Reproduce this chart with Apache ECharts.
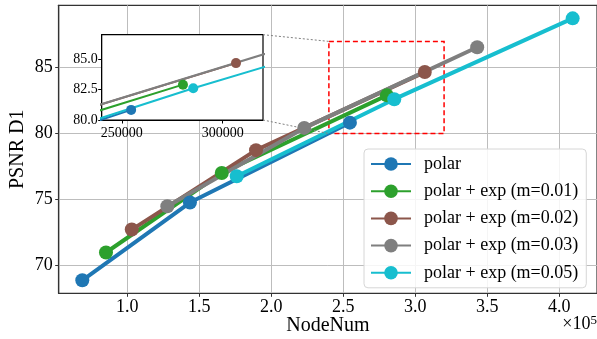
<!DOCTYPE html>
<html>
<head>
<meta charset="utf-8">
<script src="https://cdn.jsdelivr.net/npm/echarts@6/dist/echarts.min.js"></script>
<style>
html,body{margin:0;padding:0;background:#fff;}
#chart{width:597px;height:339px;}
</style>
</head>
<body>
<div id="chart"></div>
<script>
// ---- data ----
var seriesNames = ['polar', 'polar + exp (m=0.01)', 'polar + exp (m=0.02)', 'polar + exp (m=0.03)', 'polar + exp (m=0.05)'];
var polarX = [68750, 143500, 254600];
var polarY = [68.86, 74.76, 80.83];
var m001X = [85200, 165600, 280300];
var m001Y = [70.97, 77.01, 82.90];
var m002X = [103100, 189400, 306600];
var m002Y = [72.71, 78.74, 84.67];
var m003X = [127800, 222900, 343000];
var m003Y = [74.48, 80.43, 86.55];
var m005X = [176000, 285400, 409300];
var m005Y = [76.76, 82.61, 88.75];
var mainXTicks = [100000, 150000, 200000, 250000, 300000, 350000, 400000];
var mainYTicks = [70, 75, 80, 85];
var insetXTicks = [250000, 300000];
var insetYTicks = [80.0, 82.5, 85.0];
var zoomBox = {x0: 240000, x1: 320000, y0: 80, y1: 87};

var colors = ['#1f77b4', '#2ca02c', '#8c564b', '#7f7f7f', '#17becf'];
var xs = [polarX, m001X, m002X, m003X, m005X];
var ys = [polarY, m001Y, m002Y, m003Y, m005Y];
function pairs(a, b) { return a.map(function (v, i) { return [v, b[i]]; }); }

var FONT = 'Liberation Serif';
var chart = echarts.init(document.getElementById('chart'), null, {renderer: 'canvas'});

var series = [];
for (var i = 0; i < 5; i++) {
  var s = {
    name: seriesNames[i], type: 'line', xAxisIndex: 0, yAxisIndex: 0,
    data: pairs(xs[i], ys[i]), symbol: 'circle', symbolSize: 14,
    lineStyle: {width: 4, color: colors[i]}, itemStyle: {color: colors[i]},
    z: 2, animation: false
  };
  if (i === 0) {
    s.markArea = {
      silent: true,
      itemStyle: {color: 'rgba(0,0,0,0)', borderColor: '#ff0000', borderWidth: 1.5, borderType: [5, 3]},
      data: [[{coord: [zoomBox.x0, zoomBox.y1]}, {coord: [zoomBox.x1, zoomBox.y0]}]]
    };
  }
  series.push(s);
}
for (var j = 0; j < 5; j++) {
  series.push({
    name: seriesNames[j] + ' inset', type: 'line', xAxisIndex: 1, yAxisIndex: 1,
    data: pairs(xs[j], ys[j]), symbol: 'circle', symbolSize: 10, clip: true,
    lineStyle: {width: 2, color: colors[j]}, itemStyle: {color: colors[j]},
    z: 5, animation: false
  });
}

var option = {
  backgroundColor: '#fff',
  animation: false,
  grid: [
    {left: 58.7, right: 0, top: 5.3, bottom: 45.7, outerBoundsMode: 'none', containLabel: false,
      show: true, borderColor: '#333', borderWidth: 1.2, backgroundColor: 'rgba(0,0,0,0)', z: 0},
    {left: 101.7, top: 34.7, width: 161.3, height: 85.3, outerBoundsMode: 'none', containLabel: false,
      show: true, borderColor: '#000', borderWidth: 1.2, backgroundColor: '#fff', z: 3}
  ],
  xAxis: [
    {
      type: 'value', gridIndex: 0, min: 52360, max: 426200,
      name: 'NodeNum', nameLocation: 'middle', nameGap: 22, nameMoveOverlap: false,
      nameTextStyle: {fontFamily: FONT, fontSize: 20, color: '#000'},
      axisLine: {show: true, lineStyle: {color: '#333', width: 1.2}},
      axisTick: {show: true, inside: false, length: 3.5, customValues: mainXTicks, lineStyle: {color: '#333'}},
      axisLabel: {customValues: mainXTicks, margin: 5, fontFamily: FONT, fontSize: 18, color: '#000',
        formatter: function (v) { return (v / 100000).toFixed(1); }},
      splitLine: {show: true, lineStyle: {color: '#bdbdbd', width: 1}}
    },
    {
      type: 'value', gridIndex: 1, min: zoomBox.x0, max: zoomBox.x1,
      axisLine: {show: true, lineStyle: {color: '#000'}},
      axisTick: {show: true, length: 3.5, customValues: insetXTicks, lineStyle: {color: '#000'}},
      axisLabel: {customValues: insetXTicks, margin: 6, fontFamily: FONT, fontSize: 14, color: '#000',
        formatter: function (v) { return String(v); }},
      splitLine: {show: false}, z: 4
    }
  ],
  yAxis: [
    {
      type: 'value', gridIndex: 0, min: 67.87, max: 89.74,
      name: 'PSNR D1', nameLocation: 'middle', nameGap: 31, nameMoveOverlap: false,
      nameTextStyle: {fontFamily: FONT, fontSize: 20, color: '#000'},
      axisLine: {show: true, lineStyle: {color: '#333', width: 1.2}},
      axisTick: {show: true, length: 3.5, customValues: mainYTicks, lineStyle: {color: '#333'}},
      axisLabel: {customValues: mainYTicks, margin: 6, fontFamily: FONT, fontSize: 18, color: '#000',
        formatter: function (v) { return String(Math.round(v)); }},
      splitLine: {show: true, lineStyle: {color: '#bdbdbd', width: 1}}
    },
    {
      type: 'value', gridIndex: 1, min: zoomBox.y0, max: zoomBox.y1,
      axisLine: {show: true, lineStyle: {color: '#000'}},
      axisTick: {show: true, length: 3.5, customValues: insetYTicks, lineStyle: {color: '#000'}},
      axisLabel: {customValues: insetYTicks, margin: 4, fontFamily: FONT, fontSize: 14, color: '#000',
        formatter: function (v) { return v.toFixed(1); }},
      splitLine: {show: false}, z: 4
    }
  ],
  legend: {
    data: seriesNames, orient: 'vertical', left: 364, top: 149,
    itemWidth: 40, itemHeight: 17, itemGap: 9.2,
    padding: [6, 8, 6, 6],
    backgroundColor: 'rgba(255,255,255,0.85)', borderColor: '#d6d6d6', borderWidth: 1, borderRadius: 4,
    textStyle: {fontFamily: FONT, fontSize: 18, color: '#000', padding: [0, 0, 0, 8]},
    selectedMode: false, z: 10
  },
  series: series
};
chart.setOption(option);

// connector lines and offset text, positioned via the library's coordinate conversion
var insetTR = chart.convertToPixel({xAxisIndex: 1, yAxisIndex: 1}, [zoomBox.x1, zoomBox.y1]);
var insetBR = chart.convertToPixel({xAxisIndex: 1, yAxisIndex: 1}, [zoomBox.x1, zoomBox.y0]);
var boxTL = chart.convertToPixel({xAxisIndex: 0, yAxisIndex: 0}, [zoomBox.x0, zoomBox.y1]);
var boxBL = chart.convertToPixel({xAxisIndex: 0, yAxisIndex: 0}, [zoomBox.x0, zoomBox.y0]);
chart.setOption({
  graphic: [
    {type: 'line', z: 6, shape: {x1: insetTR[0], y1: insetTR[1], x2: boxTL[0], y2: boxTL[1]},
      style: {stroke: '#808080', lineWidth: 1, lineDash: [2, 2]}},
    {type: 'line', z: 6, shape: {x1: insetBR[0], y1: insetBR[1], x2: boxBL[0], y2: boxBL[1]},
      style: {stroke: '#808080', lineWidth: 1, lineDash: [2, 2]}},
    {type: 'text', right: 0, top: 314, z: 6,
      style: {text: '×10{s|5}', fontFamily: FONT, fontSize: 18, fill: '#000',
        rich: {s: {fontFamily: FONT, fontSize: 13, verticalAlign: 'top', padding: [0, 0, 8, 0]}}}}
  ]
});
</script>
</body>
</html>
